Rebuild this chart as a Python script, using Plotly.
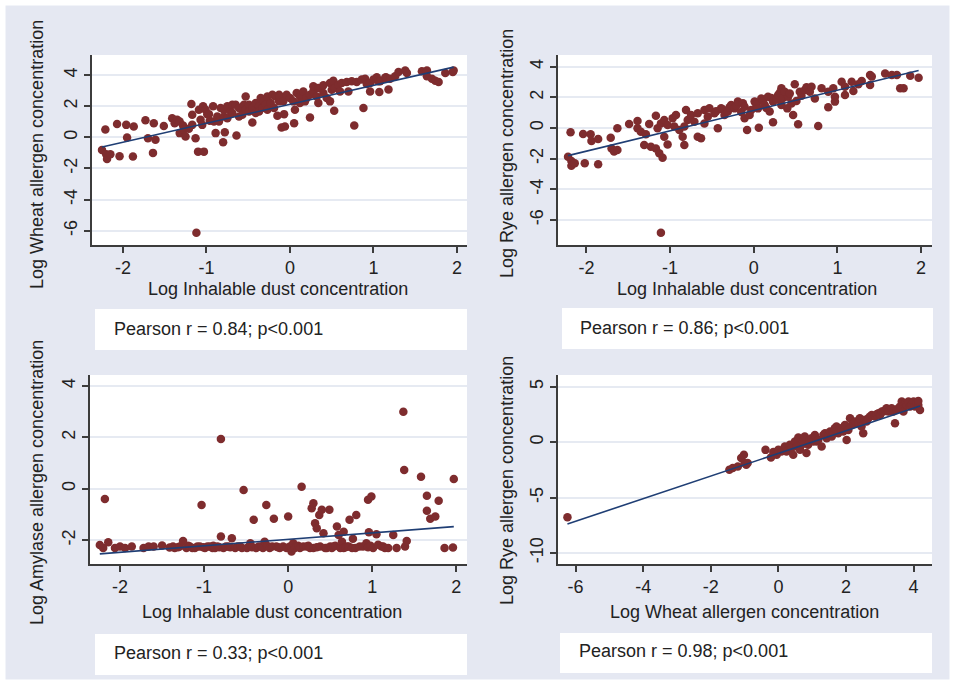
import plotly.graph_objects as go

W, H = 955, 685

# ---------------- data ----------------
# Panel 1: Log inhalable dust vs Log wheat allergen
dust_w = [-2.25, -2.21, -2.20, -2.19, -2.15, -2.07, -2.04, -1.96, -1.95, -1.88, -1.87, -1.73, -1.70, -1.64, -1.63,
          -1.61, -1.51, -1.41, -1.38, -1.35, -1.32, -1.32, -1.28, -1.27, -1.25, -1.21, -1.18, -1.17, -1.17, -1.13,
          -1.12, -1.10, -1.09, -1.07, -1.05, -1.04, -1.03, -1.01, -0.99, -0.97, -0.96, -0.92, -0.91, -0.89, -0.87,
          -0.85, -0.83, -0.80, -0.79, -0.79, -0.78, -0.75, -0.75, -0.71, -0.69, -0.69, -0.65, -0.64, -0.61, -0.61,
          -0.57, -0.55, -0.53, -0.53, -0.49, -0.49, -0.45, -0.45, -0.41, -0.41, -0.37, -0.37, -0.35, -0.33, -0.31,
          -0.29, -0.27, -0.27, -0.23, -0.21, -0.19, -0.17, -0.15, -0.13, -0.13, -0.12, -0.10, -0.08, -0.07, -0.06,
          -0.04, 0.00, 0.04, 0.05, 0.06, 0.08, 0.12, 0.12, 0.16, 0.18, 0.20, 0.24, 0.24, 0.28, 0.28,
          0.32, 0.34, 0.34, 0.36, 0.40, 0.40, 0.44, 0.48, 0.48, 0.50, 0.52, 0.53, 0.54, 0.58, 0.60,
          0.62, 0.68, 0.70, 0.74, 0.77, 0.80, 0.86, 0.88, 0.90, 0.92, 0.96, 0.96, 1.00, 1.04, 1.06,
          1.07, 1.08, 1.14, 1.15, 1.18, 1.20, 1.26, 1.30, 1.38, 1.40, 1.58, 1.64, 1.64, 1.70, 1.74,
          1.78, 1.86, 1.95, 1.96]
wheat = [-0.81, 0.50, -1.09, -1.39, -1.09, 0.85, -1.22, 0.80, -0.01, -1.24, 0.70, 1.10, -0.06, -1.00, 0.91,
         -0.16, 0.72, 1.23, 0.91, 1.13, 1.02, 0.27, 0.76, 0.48, 0.05, 0.55, 2.14, 0.80, 1.45, -0.06,
         -6.14, -0.92, 1.77, 1.13, 0.80, 1.99, -0.92, 1.77, 1.49, 1.49, 1.06, 1.99, 1.02, 0.27, 1.34,
         1.02, 1.88, -0.31, 1.77, 1.34, 0.33, 1.99, 1.23, 1.66, 2.09, 1.56, 2.09, 0.12, 1.88, 1.34,
         1.45, 2.09, 1.77, 2.63, 2.09, 1.66, 1.88, 0.95, 1.56, 2.20, 1.99, 1.66, 2.52, 1.88, 2.31,
         2.09, 1.77, 2.63, 2.20, 2.74, 1.88, 2.63, 1.39, 2.74, 2.31, 2.63, 0.63, 2.31, 1.49, 0.70,
         2.74, 2.52, 2.31, 0.91, 1.77, 2.85, 2.63, 2.20, 2.95, 2.31, 2.52, 2.74, 1.28, 2.95, 3.28,
         2.63, 2.20, 3.17, 3.17, 2.85, 3.34, 2.52, 2.31, 3.49, 3.06, 3.64, 1.71, 3.17, 3.38, 2.95,
         3.49, 3.56, 2.95, 3.60, 0.76, 3.56, 3.71, 1.88, 3.77, 3.43, 2.95, 3.49, 3.71, 3.86, 3.60,
         2.91, 3.60, 3.82, 3.86, 3.08, 3.77, 3.92, 4.20, 4.29, 4.14, 4.25, 4.29, 3.92, 3.77, 3.64,
         3.56, 4.14, 4.20, 4.29]

# Panel 2: Log inhalable dust vs Log rye allergen
dust_r = [-2.22, -2.19, -2.18, -2.18, -2.14, -2.04, -2.02, -1.95, -1.94, -1.86, -1.86, -1.71, -1.70, -1.67, -1.63,
          -1.63, -1.49, -1.39, -1.39, -1.35, -1.31, -1.29, -1.25, -1.23, -1.17, -1.17, -1.15, -1.13, -1.11, -1.11,
          -1.09, -1.07, -1.07, -1.03, -1.03, -0.97, -0.95, -0.93, -0.89, -0.85, -0.83, -0.83, -0.81, -0.79, -0.75,
          -0.71, -0.67, -0.67, -0.63, -0.59, -0.59, -0.55, -0.53, -0.47, -0.45, -0.43, -0.39, -0.37, -0.35, -0.31,
          -0.29, -0.27, -0.23, -0.21, -0.19, -0.15, -0.13, -0.11, -0.11, -0.08, -0.05, -0.03, 0.01, 0.03, 0.05,
          0.06, 0.09, 0.11, 0.13, 0.15, 0.17, 0.19, 0.21, 0.23, 0.23, 0.27, 0.29, 0.31, 0.33, 0.33,
          0.35, 0.37, 0.40, 0.41, 0.43, 0.45, 0.47, 0.49, 0.51, 0.53, 0.55, 0.57, 0.61, 0.63, 0.67,
          0.69, 0.73, 0.77, 0.81, 0.89, 0.89, 0.95, 0.97, 0.97, 1.05, 1.09, 1.09, 1.17, 1.19, 1.25,
          1.29, 1.39, 1.39, 1.41, 1.57, 1.65, 1.71, 1.75, 1.79, 1.87, 1.97]
rye = [-1.87, -0.28, -2.15, -2.46, -2.30, -0.39, -2.30, -0.41, -0.85, -0.72, -2.37, -0.63, -1.33, -1.54, -1.44,
       -0.02, 0.26, 0.46, -0.02, -0.24, -1.11, -0.41, 0.26, -1.22, 0.80, -1.33, -0.02, -1.65, 0.30, -6.83,
       -1.94, 0.52, -0.57, 0.20, -1.07, 0.63, 0.09, 0.85, -0.13, -0.57, 0.09, -1.11, 1.17, 0.52, 0.85,
       0.41, 0.96, -0.57, -0.67, 1.17, 0.30, 0.74, 1.28, 0.96, 1.10, -0.02, 1.28, 1.20, 0.85, 1.07,
       1.35, 1.50, 1.28, 1.45, 1.72, 1.05, 1.61, 0.63, 1.39, -0.13, 0.85, 1.17, 1.72, 1.55, 1.28,
       0.02, 1.93, 1.75, 1.50, 1.30, 2.04, 1.07, 1.95, 1.72, 0.37, 1.85, 2.15, 2.30, 2.59, 1.50,
       1.95, 2.37, 1.28, 2.04, 2.25, 1.60, 0.85, 2.85, 1.76, 0.24, 2.37, 2.10, 2.48, 2.65, 2.37,
       2.69, 1.93, 0.13, 2.59, 1.35, 2.37, 2.59, 1.72, 2.04, 3.02, 2.15, 2.69, 3.02, 2.41, 2.85,
       3.06, 2.80, 3.46, 3.35, 3.56, 3.46, 3.46, 2.59, 2.59, 3.41, 3.28]

# Panel 3: Log inhalable dust vs Log amylase allergen
dust_a = [-2.24, -2.20, -2.18, -2.14, -2.06, -2.00, -1.94, -1.86, -1.72, -1.66, -1.60, -1.50, -1.41, -1.37, -1.35,
          -1.31, -1.29, -1.25, -1.21, -1.19, -1.17, -1.14, -1.11, -1.08, -1.05, -1.03, -1.01, -0.99, -0.96, -0.93,
          -0.90, -0.89, -0.87, -0.84, -0.82, -0.80, -0.80, -0.77, -0.74, -0.71, -0.69, -0.67, -0.63, -0.60, -0.57,
          -0.55, -0.53, -0.49, -0.45, -0.43, -0.41, -0.38, -0.35, -0.32, -0.30, -0.28, -0.26, -0.25, -0.22, -0.19,
          -0.17, -0.14, -0.12, -0.10, -0.06, -0.02, 0.00, 0.02, 0.04, 0.06, 0.08, 0.10, 0.12, 0.14, 0.16,
          0.18, 0.22, 0.24, 0.26, 0.28, 0.30, 0.30, 0.32, 0.34, 0.34, 0.37, 0.38, 0.40, 0.42, 0.44,
          0.46, 0.49, 0.50, 0.52, 0.54, 0.56, 0.58, 0.60, 0.62, 0.64, 0.66, 0.66, 0.68, 0.70, 0.72,
          0.73, 0.76, 0.77, 0.80, 0.81, 0.85, 0.89, 0.93, 0.95, 0.95, 0.96, 0.98, 0.99, 1.01, 1.05,
          1.07, 1.11, 1.13, 1.15, 1.19, 1.25, 1.29, 1.37, 1.38, 1.39, 1.41, 1.58, 1.65, 1.65, 1.69,
          1.75, 1.79, 1.86, 1.96, 1.97]
amylase = [-2.19, -2.31, -0.40, -2.08, -2.31, -2.25, -2.31, -2.25, -2.31, -2.25, -2.25, -2.21, -2.29, -2.25, -2.31,
           -2.28, -2.25, -2.03, -2.31, -2.22, -2.25, -2.31, -2.31, -2.25, -2.25, -0.63, -2.28, -2.31, -2.25, -2.25,
           -2.31, -2.22, -2.31, -2.25, -2.28, 1.94, -1.86, -2.31, -2.25, -2.25, -2.28, -1.93, -2.31, -2.25, -2.25,
           -2.31, -0.05, -2.31, -2.12, -2.28, -1.21, -2.31, -2.25, -2.25, -2.31, -2.06, -0.63, -2.22, -2.31, -2.25,
           -1.17, -2.25, -2.28, -2.31, -2.25, -2.31, -1.08, -2.25, -2.44, -2.12, -2.31, -2.25, -2.22, -2.31, 0.08,
           -2.25, -2.25, -2.22, -2.31, -0.76, -0.56, -2.31, -1.34, -1.54, -2.28, -1.02, -2.25, -0.82, -1.73, -2.31,
           -2.31, -0.82, -2.25, -2.31, -2.25, -2.22, -1.47, -1.80, -2.31, -2.06, -1.67, -2.31, -2.28, -2.25, -2.25,
           -1.21, -2.31, -1.95, -2.31, -1.02, -2.25, -2.25, -2.12, -0.43, -2.28, -1.69, -2.22, -0.30, -2.31, -1.77,
           -2.18, -2.25, -2.25, -2.31, -2.31, -1.80, -2.31, 3.00, 0.73, -2.25, -2.03, 0.47, -0.27, -0.86, -1.17,
           -1.08, -0.47, -2.31, -2.29, 0.38]

# Panel 4: Log wheat allergen vs Log rye allergen
wheat_b = [-6.24, -1.45, -1.35, -1.20, -1.10, -1.02, -1.00, -0.95, -0.91, -0.38, -0.22, -0.15, -0.05, 0.00, 0.09,
           0.19, 0.24, 0.34, 0.39, 0.44, 0.49, 0.54, 0.59, 0.64, 0.69, 0.74, 0.78, 0.83, 0.88, 0.93,
           0.98, 1.03, 1.08, 1.13, 1.18, 1.28, 1.33, 1.38, 1.43, 1.48, 1.53, 1.58, 1.62, 1.67, 1.72,
           1.77, 1.82, 1.87, 1.92, 1.97, 2.02, 2.07, 2.12, 2.17, 2.22, 2.27, 2.37, 2.41, 2.46, 2.51,
           2.56, 2.61, 2.66, 2.71, 2.76, 2.86, 2.91, 2.96, 3.01, 3.06, 3.11, 3.16, 3.20, 3.25, 3.30,
           3.35, 3.40, 3.45, 3.50, 3.55, 3.60, 3.65, 3.70, 3.75, 3.80, 3.85, 3.90, 3.95, 4.00, 4.04,
           4.09, 4.14, 4.14, 4.19]
rye_b = [-6.78, -2.49, -2.34, -2.19, -1.44, -1.14, -1.89, -2.04, -1.89, -0.70, -1.38, -0.90, -1.14, -0.69, -0.84,
         -0.39, -0.84, -0.24, -0.54, -1.14, 0.05, -0.39, 0.41, -0.69, -0.24, 0.05, 0.50, -0.99, -0.24, 0.20,
         0.35, 0.05, 0.65, 0.05, 0.20, -0.39, 0.65, 0.80, 0.35, 0.65, 0.95, 0.50, 0.95, 1.25, 1.40,
         0.80, 1.25, 1.10, 0.95, 1.55, 0.20, 1.10, 2.15, 1.55, 1.70, 1.85, 1.70, 2.15, 1.40, 0.80,
         2.00, 1.85, 2.15, 2.30, 2.45, 2.30, 2.50, 2.60, 2.45, 2.75, 2.75, 2.90, 3.05, 2.75, 2.90,
         3.05, 2.75, 1.70, 2.90, 3.05, 3.20, 3.65, 2.75, 3.50, 3.35, 3.65, 3.20, 3.35, 3.65, 3.20,
         3.50, 3.35, 3.71, 2.90]

# Fitted regression lines: (intercept, slope)
fit_w = (2.12, 1.22)
fit_r = (1.14, 1.325)
fit_a = (-1.97, 0.252)
fit_wr = (-1.02, 1.02)

pearson = ["Pearson r = 0.84; p<0.001", "Pearson r = 0.86; p<0.001",
           "Pearson r = 0.33; p<0.001", "Pearson r = 0.98; p<0.001"]

# ---------------- styling ----------------
BG = "#e5e8f2"
MARKER = "#7e2c2e"
LINE = "#1f3e74"
AXIS = "#3c3c3c"
GRID = "#e6eaf2"
FONT = "Liberation Sans, Arial, sans-serif"
TXT = "#222222"


def px_dom_x(a, b):
    return [a / W, b / W]


def px_dom_y(top, bottom):
    return [1 - bottom / H, 1 - top / H]


panels = [
    dict(x=dust_w, y=wheat, fit=fit_w, xd=(92, 467), yd=(55, 245),
         xr=[-2.37, 2.12], yr=[-6.92, 5.29], xt=[-2, -1, 0, 1, 2], yt=[-6, -4, -2, 0, 2, 4]),
    dict(x=dust_r, y=rye, fit=fit_r, xd=(558, 932), yd=(55, 245),
         xr=[-2.34, 2.13], yr=[-7.63, 4.76], xt=[-2, -1, 0, 1, 2], yt=[-6, -4, -2, 0, 2, 4]),
    dict(x=dust_a, y=amylase, fit=fit_a, xd=(90, 467), yd=(375, 564),
         xr=[-2.357, 2.127], yr=[-2.93, 4.43], xt=[-2, -1, 0, 1, 2], yt=[-2, 0, 2, 4]),
    dict(x=wheat_b, y=rye_b, fit=fit_wr, xd=(558, 932), yd=(375, 564),
         xr=[-6.52, 4.545], yr=[-10.99, 6.05], xt=[-6, -4, -2, 0, 2, 4], yt=[-10, -5, 0, 5]),
]

fig = go.Figure()
layout = dict(
    width=W, height=H, margin=dict(l=0, r=0, t=0, b=0),
    paper_bgcolor=BG, plot_bgcolor="white", showlegend=False,
    font=dict(family=FONT, size=18, color=TXT),
)


def lab(v):
    return str(v)


for i, p in enumerate(panels, start=1):
    xa = "x" if i == 1 else f"x{i}"
    ya = "y" if i == 1 else f"y{i}"
    fig.add_trace(go.Scatter(x=p["x"], y=p["y"], mode="markers", xaxis=xa, yaxis=ya,
                             marker=dict(color=MARKER, size=8.5, line=dict(width=0))))
    b0, b1 = p["fit"]
    x0, x1 = min(p["x"]), max(p["x"])
    fig.add_trace(go.Scatter(x=[x0, x1], y=[b0 + b1 * x0, b0 + b1 * x1], mode="lines",
                             xaxis=xa, yaxis=ya, line=dict(color=LINE, width=1.6)))
    xkey = "xaxis" if i == 1 else f"xaxis{i}"
    ykey = "yaxis" if i == 1 else f"yaxis{i}"
    layout[xkey] = dict(domain=px_dom_x(*p["xd"]), range=p["xr"], anchor=ya,
                        tickvals=p["xt"], ticktext=[lab(v) for v in p["xt"]],
                        showgrid=False, zeroline=False, showline=True, linecolor=AXIS, linewidth=1.5,
                        ticks="outside", ticklen=6, tickwidth=1.5, tickcolor=AXIS,
                        tickfont=dict(size=18, color=TXT, family=FONT))
    layout[ykey] = dict(domain=px_dom_y(*p["yd"]), range=p["yr"], anchor=xa,
                        tickvals=p["yt"], ticktext=[lab(v) for v in p["yt"]], tickangle=-90,
                        showgrid=True, gridcolor=GRID, gridwidth=2, zeroline=False,
                        showline=True, linecolor=AXIS, linewidth=1.5,
                        ticks="outside", ticklen=6, tickwidth=1.5, tickcolor=AXIS,
                        tickfont=dict(size=18, color=TXT, family=FONT))

fig.update_layout(**layout)

# axis titles (positions in pixels of the 955x685 page)
titles = [
    ("Log Inhalable dust concentration", 278, 289, 0),
    ("Log Wheat allergen concentration", 37, 155, -90),
    ("Log Inhalable dust concentration", 747, 289, 0),
    ("Log Rye allergen concentration", 507, 154, -90),
    ("Log Inhalable dust concentration", 272, 612, 0),
    ("Log Amylase allergen concentration", 37, 483, -90),
    ("Log Wheat allergen concentration", 744, 612, 0),
    ("Log Rye allergen concentration", 507, 481, -90),
]
anns = []
for t, cx, cy, ang in titles:
    anns.append(dict(text=t, x=cx / W, y=1 - cy / H, xref="paper", yref="paper",
                     xanchor="center", yanchor="middle", showarrow=False, textangle=ang,
                     font=dict(size=18, color=TXT, family=FONT)))

# note boxes with Pearson r
boxes = [(95, 309, 467, 350, 112, 329), (562, 308, 933, 349, 578, 328),
         (95, 634, 467, 675, 112, 653), (560, 633, 932, 673, 577, 651)]
shapes = []
for (bx0, by0, bx1, by1, tx, ty), txt in zip(boxes, pearson):
    shapes.append(dict(type="rect", xref="paper", yref="paper", x0=bx0 / W, x1=bx1 / W,
                       y0=1 - by1 / H, y1=1 - by0 / H, fillcolor="white", line=dict(width=0),
                       layer="below"))
    anns.append(dict(text=txt, x=tx / W, y=1 - ty / H, xref="paper", yref="paper",
                     xanchor="left", yanchor="middle", showarrow=False,
                     font=dict(size=18, color=TXT, family=FONT)))

# white outer border
shapes.append(dict(type="rect", xref="paper", yref="paper", x0=0, x1=1, y0=0, y1=1,
                   line=dict(color="white", width=11), fillcolor="rgba(0,0,0,0)", layer="above"))

fig.update_layout(annotations=anns, shapes=shapes)
fig.write_html("out.html", config={"displayModeBar": False},
               post_script="document.body.style.margin='0px';")
